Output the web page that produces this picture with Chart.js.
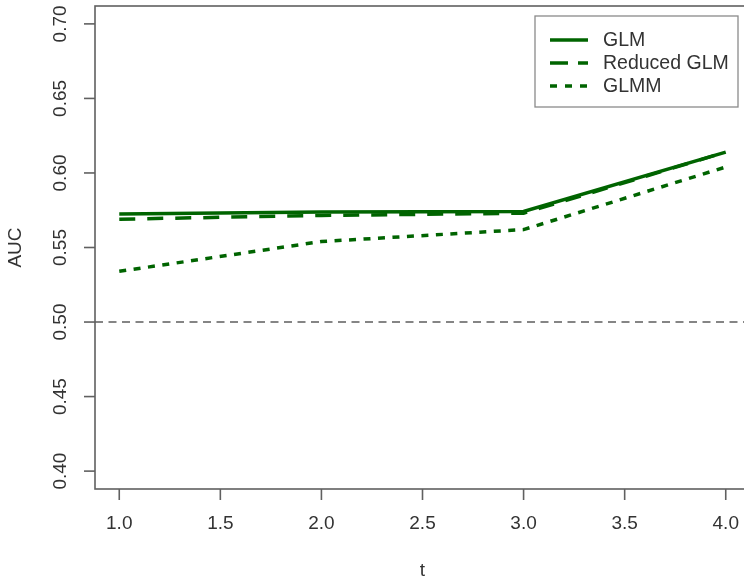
<!DOCTYPE html>
<html>
<head>
<meta charset="utf-8">
<script src="https://cdn.jsdelivr.net/npm/chart.js@4/dist/chart.umd.min.js"></script>
<style>
  html, body { margin: 0; padding: 0; overflow: hidden; background: #fff; }
  #wrap { width: 758px; height: 580px; }
</style>
</head>
<body>
<div id="wrap"><canvas id="c" width="758" height="580"></canvas></div>
<script>
// AUC over time for the three model variants
const tValues = [1, 2, 3, 4];
const glm = [0.5725, 0.5738, 0.5742, 0.614];
const reducedGlm = [0.569, 0.5715, 0.573, 0.614];
const glmm = [0.534, 0.554, 0.562, 0.604];
const seriesNames = ['GLM', 'Reduced GLM', 'GLMM'];

const xTicks = [1.0, 1.5, 2.0, 2.5, 3.0, 3.5, 4.0];
const yTicks = [0.40, 0.45, 0.50, 0.55, 0.60, 0.65, 0.70];
const referenceAuc = 0.5;

const GREEN = '#006400';
const AXIS = '#606060';
const TEXT = '#333333';
const FONT = '19px "Liberation Sans", Arial, sans-serif';

const dashStyles = [[], [16, 12], [7, 7.5]];

function points(vals) {
  return tValues.map((t, i) => ({ x: t, y: vals[i] }));
}

const seriesValues = [glm, reducedGlm, glmm];

const datasets = seriesValues.map((vals, i) => ({
  label: seriesNames[i],
  data: points(vals),
  borderColor: GREEN,
  borderWidth: 3.5,
  borderDash: dashStyles[i],
  borderCapStyle: 'butt',
  pointRadius: 0,
  fill: false,
  tension: 0
}));

// R-style frame, axes, reference line and legend
const basePlot = {
  id: 'basePlot',
  beforeDatasetsDraw(chart) {
    const { ctx, chartArea: a, scales: { y } } = chart;
    const yy = y.getPixelForValue(referenceAuc);
    ctx.save();
    ctx.strokeStyle = '#5e5e5e';
    ctx.lineWidth = 1.6;
    ctx.setLineDash([8, 5.5]);
    ctx.beginPath();
    ctx.moveTo(a.left, yy);
    ctx.lineTo(a.right, yy);
    ctx.stroke();
    ctx.restore();
  },
  afterDatasetsDraw(chart) {
    const { ctx, chartArea: a, scales: { x, y } } = chart;
    ctx.save();
    // frame
    ctx.strokeStyle = AXIS;
    ctx.lineWidth = 1.6;
    ctx.setLineDash([]);
    ctx.strokeRect(a.left, a.top, a.right - a.left, a.bottom - a.top);

    // x ticks + labels
    ctx.fillStyle = TEXT;
    ctx.font = FONT;
    ctx.textAlign = 'center';
    ctx.textBaseline = 'middle';
    xTicks.forEach(v => {
      const px = x.getPixelForValue(v);
      ctx.beginPath();
      ctx.moveTo(px, a.bottom);
      ctx.lineTo(px, a.bottom + 11);
      ctx.stroke();
      ctx.fillText(v.toFixed(1), px, a.bottom + 35);
    });

    // y ticks + rotated labels
    yTicks.forEach(v => {
      const py = y.getPixelForValue(v);
      ctx.beginPath();
      ctx.moveTo(a.left, py);
      ctx.lineTo(a.left - 11, py);
      ctx.stroke();
      ctx.save();
      ctx.translate(a.left - 34, py);
      ctx.rotate(-Math.PI / 2);
      ctx.fillText(v.toFixed(2), 0, 0);
      ctx.restore();
    });

    // axis titles
    ctx.fillText('t', (a.left + a.right) / 2, a.bottom + 82);
    ctx.save();
    ctx.translate(a.left - 79, (a.top + a.bottom) / 2);
    ctx.rotate(-Math.PI / 2);
    ctx.fillText('AUC', 0, 0);
    ctx.restore();

    // legend
    const lx = 535, ly = 16, lw = 203, lh = 91;
    ctx.fillStyle = '#ffffff';
    ctx.fillRect(lx, ly, lw, lh);
    ctx.strokeStyle = '#8a8a8a';
    ctx.lineWidth = 1.3;
    ctx.strokeRect(lx, ly, lw, lh);
    const rows = [40, 63, 86];
    seriesNames.forEach((name, i) => {
      ctx.strokeStyle = GREEN;
      ctx.lineWidth = 3.5;
      ctx.lineCap = 'butt';
      ctx.setLineDash(i === 1 ? [18, 10] : i === 2 ? [7, 8] : []);
      ctx.beginPath();
      ctx.moveTo(550, rows[i]);
      ctx.lineTo(588, rows[i]);
      ctx.stroke();
      ctx.setLineDash([]);
      ctx.fillStyle = TEXT;
      ctx.textAlign = 'left';
      ctx.font = '19.5px "Liberation Sans", Arial, sans-serif';
      ctx.fillText(name, 603, rows[i] + 1);
    });
    ctx.restore();
  }
};

new Chart(document.getElementById('c'), {
  type: 'line',
  data: { datasets },
  options: {
    responsive: false,
    animation: false,
    layout: { padding: { left: 95, top: 6, right: 8, bottom: 91 } },
    plugins: { legend: { display: false }, tooltip: { enabled: false } },
    scales: {
      x: { type: 'linear', min: 0.88, max: 4.12, display: false },
      y: { type: 'linear', min: 0.388, max: 0.712, display: false }
    }
  },
  plugins: [basePlot]
});
</script>
</body>
</html>
